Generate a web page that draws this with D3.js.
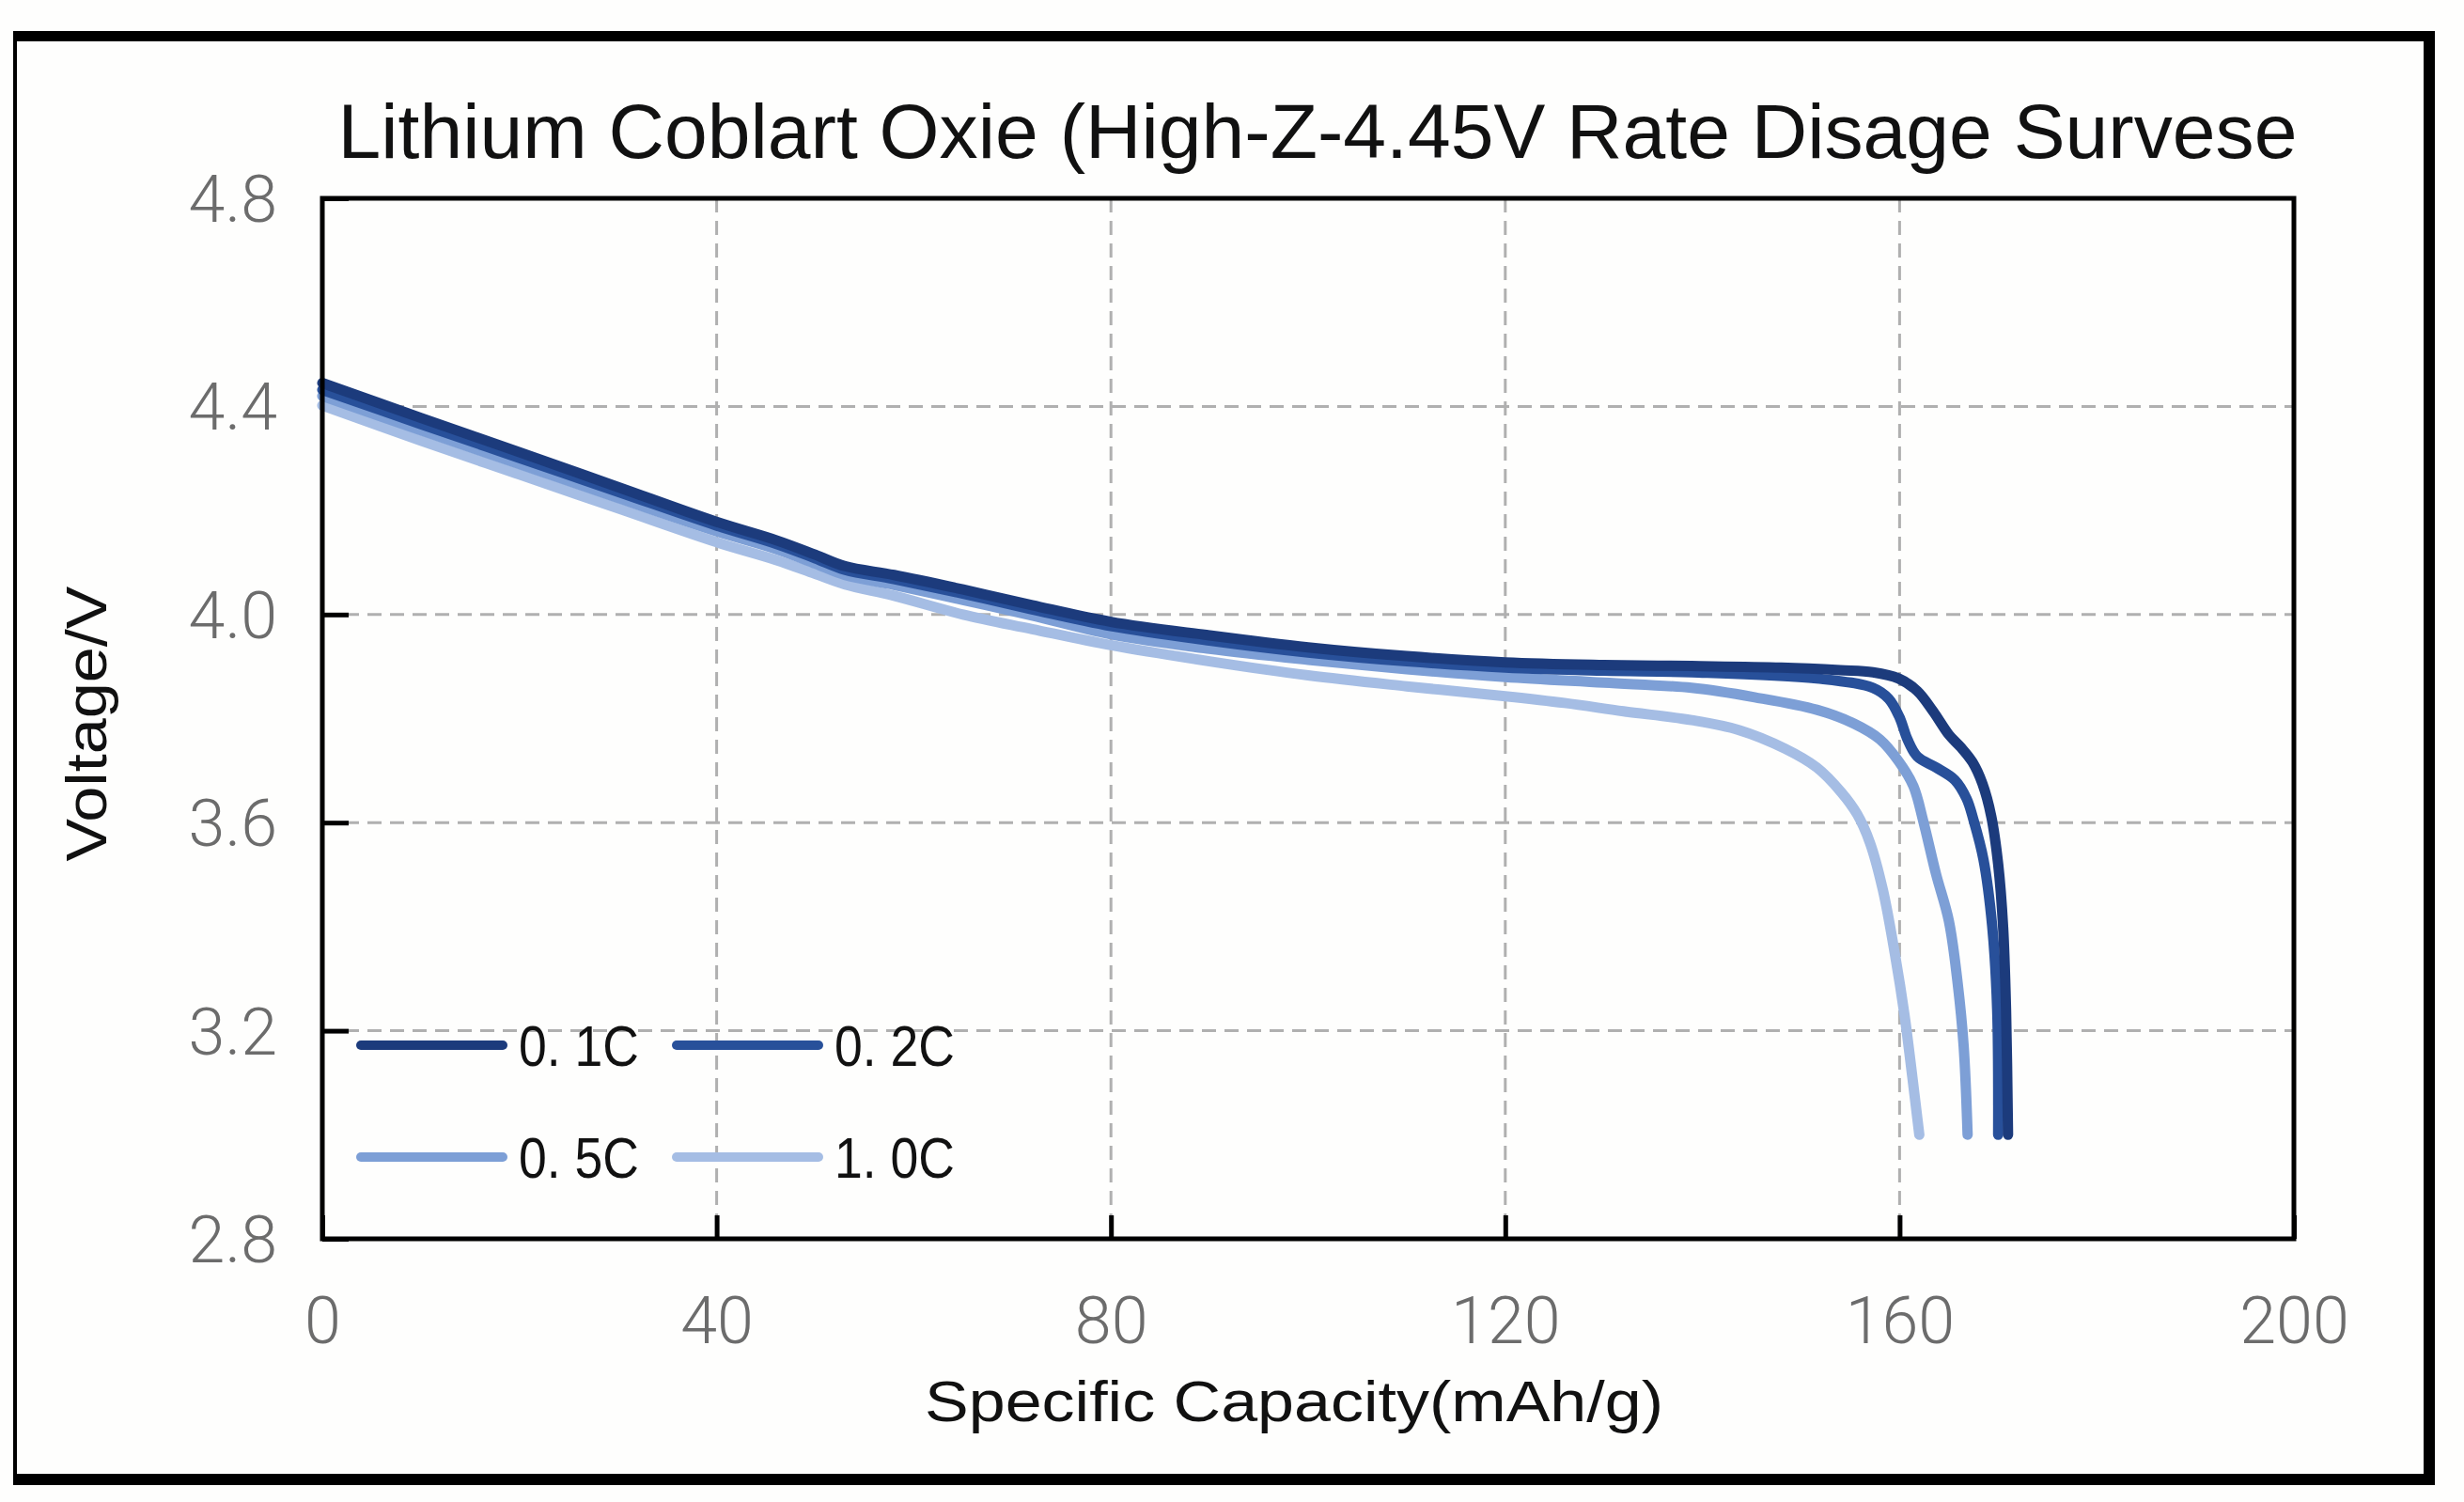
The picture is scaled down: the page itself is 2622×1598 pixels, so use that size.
<!DOCTYPE html>
<html>
<head>
<meta charset="utf-8">
<script src="https://cdn.jsdelivr.net/npm/d3@7/dist/d3.min.js"></script>
<style>
html,body{margin:0;padding:0;background:#fefefd;}
svg{display:block;}
</style>
</head>
<body>
<script>
// ---------- data ----------
const titleText = "Lithium Coblart Oxie (High-Z-4.45V Rate Disage Survese";
const xLabel = "Specific Capacity(mAh/g)";
const yLabel = "Voltage/V";
const xTicks = [0, 40, 80, 120, 160, 200];
const yTicks = [2.8, 3.2, 3.6, 4.0, 4.4, 4.8];
const yTickLabels = ["2.8", "3.2", "3.6", "4.0", "4.4", "4.8"];
const seriesNames = ["0. 1C", "0. 2C", "0. 5C", "1. 0C"];
const seriesColors = ["#1c3b7c", "#28509a", "#7d9fd6", "#a5bde4"];

const cap01 = [0,10,20,30,40,46,50,53,58,65,72,80,90,100,110,120,130,138.9,148,154,157.3,159.9,161.8,163.4,165.0,166.2,167.4,168.4,169.3,170.0,170.5,170.8,171.0];
const v01   = [4.445,4.378,4.312,4.245,4.178,4.143,4.115,4.093,4.076,4.048,4.018,3.986,3.960,3.937,3.920,3.908,3.903,3.901,3.898,3.893,3.889,3.877,3.853,3.814,3.769,3.745,3.716,3.675,3.612,3.520,3.400,3.240,3.000];

const cap02 = [0,10,20,30,40,46,50,53,58,65,72,80,90,100,110,120,130,138.9,151.6,157.3,158.9,160.0,160.8,161.8,163.7,165.6,166.8,167.5,168.5,169.4,169.9,170.0];
const v02   = [4.432,4.366,4.301,4.236,4.171,4.136,4.108,4.086,4.068,4.040,4.010,3.978,3.950,3.927,3.910,3.898,3.892,3.889,3.877,3.859,3.838,3.802,3.760,3.727,3.706,3.682,3.646,3.605,3.530,3.400,3.240,3.000];

const cap05 = [0,10,20,30,40,46,50,53,58,65,72,80,90,100,110,120,130,138.9,145.3,151.6,155.4,158.0,159.9,161.4,162.4,163.7,165.0,165.9,166.5,166.9];
const v05   = [4.420,4.354,4.289,4.224,4.160,4.126,4.098,4.076,4.057,4.028,3.998,3.962,3.934,3.913,3.895,3.880,3.869,3.859,3.841,3.817,3.790,3.760,3.718,3.670,3.603,3.501,3.411,3.290,3.170,3.000];

const cap10 = [0,10,20,30,40,46,50,53,58,65,72,80,90,100,110,120,126,132,138.9,143.7,148.4,151.6,154.1,155.7,157.0,158.3,159.5,160.5,161.3,162.0];
const v10   = [4.402,4.334,4.269,4.204,4.139,4.105,4.078,4.058,4.036,4.000,3.972,3.941,3.910,3.883,3.862,3.843,3.830,3.814,3.797,3.778,3.742,3.706,3.658,3.616,3.561,3.471,3.350,3.230,3.110,3.000];

// ---------- layout ----------
const W = 2622, H = 1598;
const plot = {left: 343, right: 2441, top: 211, bottom: 1318};

const svg = d3.select("body").append("svg")
  .attr("width", W).attr("height", H);

svg.append("rect").attr("width", W).attr("height", H).attr("fill", "#fefefd");

// outer frame
const frame = svg.append("g").attr("stroke", "#000").attr("fill", "none");
frame.append("line").attr("x1", 14).attr("x2", 2591).attr("y1", 38.5).attr("y2", 38.5).attr("stroke-width", 11);
frame.append("line").attr("x1", 2585).attr("x2", 2585).attr("y1", 33).attr("y2", 1580).attr("stroke-width", 12);
frame.append("line").attr("x1", 14).attr("x2", 2591).attr("y1", 1574).attr("y2", 1574).attr("stroke-width", 12);
frame.append("line").attr("x1", 16).attr("x2", 16).attr("y1", 33).attr("y2", 1580).attr("stroke-width", 4);

const x = d3.scaleLinear().domain([0, 200]).range([plot.left, plot.right]);
const y = d3.scaleLinear().domain([2.8, 4.8]).range([plot.bottom, plot.top]);

// grid
const grid = svg.append("g").attr("stroke", "#b0b0b0").attr("stroke-width", 3).attr("stroke-dasharray", "15,9");
grid.selectAll("line.v").data(xTicks.filter(d => d > 0 && d < 200)).enter().append("line")
  .attr("x1", d => x(d)).attr("x2", d => x(d)).attr("y1", plot.top).attr("y2", plot.bottom);
grid.selectAll("line.h").data(yTicks.filter(d => d > 2.8 && d < 4.8)).enter().append("line")
  .attr("x1", plot.left).attr("x2", plot.right).attr("y1", d => y(d)).attr("y2", d => y(d));

// axes
const tickFont = "Roboto, 'Liberation Sans', Arial, sans-serif";
const xAxis = svg.append("g").attr("transform", `translate(0,${plot.bottom})`)
  .call(d3.axisBottom(x).tickValues(xTicks).tickSize(-25).tickFormat(d3.format("d")));
xAxis.select(".domain").remove();
xAxis.selectAll(".tick line").attr("stroke", "#000").attr("stroke-width", 5);
xAxis.selectAll(".tick text").attr("y", 111).attr("dy", 0)
  .attr("font-family", tickFont).attr("font-weight", 300).attr("font-size", 70).attr("fill", "#6c6c6c");

const yAxis = svg.append("g").attr("transform", `translate(${plot.left},0)`)
  .call(d3.axisLeft(y).tickValues(yTicks).tickSize(-28).tickFormat((d, i) => yTickLabels[i]));
yAxis.select(".domain").remove();
yAxis.selectAll(".tick line").attr("stroke", "#000").attr("stroke-width", 5);
yAxis.selectAll(".tick text").attr("x", -48).attr("dy", "0.35em")
  .attr("font-family", tickFont).attr("font-weight", 300).attr("font-size", 70).attr("fill", "#6c6c6c");

// curves
const series = [
  {name: seriesNames[0], caps: cap01, volts: v01, color: seriesColors[0]},
  {name: seriesNames[1], caps: cap02, volts: v02, color: seriesColors[1]},
  {name: seriesNames[2], caps: cap05, volts: v05, color: seriesColors[2]},
  {name: seriesNames[3], caps: cap10, volts: v10, color: seriesColors[3]}
];
const line = d3.line().x(d => x(d[0])).y(d => y(d[1])).curve(d3.curveCatmullRom.alpha(0.5));
svg.append("g").selectAll("path").data(series.slice().reverse()).enter().append("path")
  .attr("d", s => line(s.caps.map((c, i) => [c, s.volts[i]])))
  .attr("fill", "none").attr("stroke", s => s.color).attr("stroke-width", 11)
  .attr("stroke-linecap", "round").attr("stroke-linejoin", "round");

// plot frame
svg.append("rect").attr("x", plot.left).attr("y", plot.top)
  .attr("width", plot.right - plot.left).attr("height", plot.bottom - plot.top)
  .attr("fill", "none").attr("stroke", "#000").attr("stroke-width", 5);

// legend
const legendPos = [[384, 1112], [720, 1112], [384, 1231], [720, 1231]];
const leg = svg.append("g");
series.forEach((s, i) => {
  const [lx, ly] = legendPos[i];
  leg.append("line").attr("x1", lx).attr("x2", lx + 151).attr("y1", ly).attr("y2", ly)
    .attr("stroke", s.color).attr("stroke-width", 10).attr("stroke-linecap", "round");
  leg.append("text").attr("x", lx + 168).attr("y", ly + 22)
    .attr("font-family", "'Liberation Sans', Arial, sans-serif").attr("font-size", 62).attr("fill", "#111")
    .attr("textLength", 128).attr("lengthAdjust", "spacingAndGlyphs")
    .text(s.name);
});

// title & labels
svg.append("text").attr("x", 1402).attr("y", 168).attr("text-anchor", "middle")
  .attr("font-family", "'Liberation Sans', Arial, sans-serif").attr("font-size", 82).attr("fill", "#111")
  .attr("textLength", 2085).attr("lengthAdjust", "spacingAndGlyphs")
  .text(titleText);

svg.append("text").attr("x", 1377).attr("y", 1512).attr("text-anchor", "middle")
  .attr("font-family", "'Liberation Sans', Arial, sans-serif").attr("font-size", 62).attr("fill", "#111")
  .attr("textLength", 786).attr("lengthAdjust", "spacingAndGlyphs")
  .text(xLabel);

svg.append("text").attr("transform", "translate(113,770) rotate(-90)").attr("text-anchor", "middle")
  .attr("font-family", "'Liberation Sans', Arial, sans-serif").attr("font-size", 62).attr("fill", "#111")
  .attr("textLength", 293).attr("lengthAdjust", "spacingAndGlyphs")
  .text(yLabel);
</script>
</body>
</html>
